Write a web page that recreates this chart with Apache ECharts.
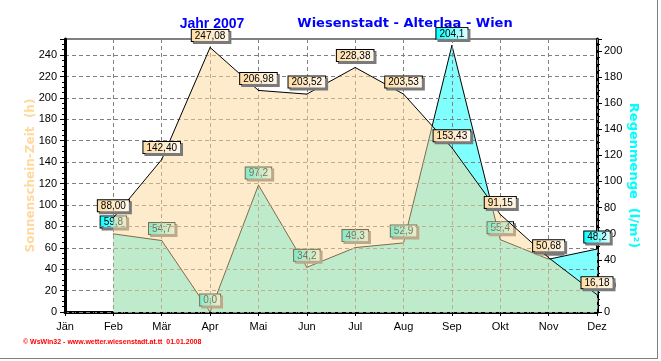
<!DOCTYPE html>
<html>
<head>
<meta charset="utf-8">
<script src="https://cdn.jsdelivr.net/npm/echarts/dist/echarts.min.js"></script>
<style>
html,body{margin:0;padding:0;background:#fff;}
#c{width:661px;height:361px;}
</style>
</head>
<body>
<div id="c"></div>
<script>
const months = ['Jän','Feb','Mär','Apr','Mai','Jun','Jul','Aug','Sep','Okt','Nov','Dez'];
const sunshine = [null, 88.00, 142.40, 247.08, 206.98, 203.52, 228.38, 203.53, 153.43, 91.15, 50.68, 16.18];
const rain = [null, 59.8, 54.7, 0.0, 97.2, 34.2, 49.3, 52.9, 204.1, 55.4, 40.4, 48.2];
const titleLeft = 'Jahr 2007';
const titleRight = 'Wiesenstadt - Alterlaa - Wien';
const leftAxisName = 'Sonnenschein-Zeit  (h)';
const rightAxisName = 'Regenmenge  (l/m²)';
const footer = '© WsWin32 - www.wetter.wiesenstadt.at.tt  01.01.2008';

const FONT = 'Liberation Sans, Arial, sans-serif';
const chart = echarts.init(document.getElementById('c'), null, {renderer: 'canvas'});

function grad(c1, c2) {
  return new echarts.graphic.LinearGradient(0, 0, 1, 0, [{offset: 0, color: c1}, {offset: 1, color: c2}]);
}
function labelCfg(bg, digits) {
  return {
    show: true, position: 'top', distance: 6,
    formatter: p => (p.value == null ? '' : Number(p.value).toFixed(digits).replace('.', ',')),
    fontFamily: FONT, fontSize: 10, lineHeight: 10, color: '#000',
    backgroundColor: bg, borderColor: '#000', borderWidth: 1, padding: [1, 3, 0, 3],
    shadowColor: '#7a7a7a', shadowOffsetX: 2, shadowOffsetY: 2, shadowBlur: 0
  };
}

const option = {
  animation: false,
  grid: {left: 65, right: 64, top: 39, bottom: 49, show: true, borderColor: '#000', borderWidth: 1,
         backgroundColor: 'transparent', containLabel: false, outerBoundsMode: 'none'},
  xAxis: [
    {type: 'category', data: months, boundaryGap: false, position: 'bottom', z: 0,
     axisLine: {show: true, lineStyle: {color: '#000', width: 3}},
     axisTick: {show: false},
     axisLabel: {fontFamily: FONT, fontSize: 11, color: '#000', margin: 9},
     splitLine: {show: false}},
    {type: 'value', min: 0, max: 11, interval: 1, position: 'bottom', z: 2,
     axisLine: {show: false},
     axisTick: {show: true, length: 4, lineStyle: {color: '#000'}},
     minorTick: {show: true, splitNumber: 5, length: 2, lineStyle: {color: '#000'}},
     axisLabel: {show: false},
     splitLine: {show: true, lineStyle: {color: '#808080', type: [4, 3], width: 1}},
     minorSplitLine: {show: false}}
  ],
  yAxis: [
    {type: 'value', position: 'left', min: 0, max: 255, interval: 20, z: 2,
     axisLine: {show: true, lineStyle: {color: '#000', width: 3}},
     axisTick: {show: true, length: 5, lineStyle: {color: '#000'}},
     minorTick: {show: true, splitNumber: 4, length: 3, lineStyle: {color: '#000'}},
     axisLabel: {fontFamily: FONT, fontSize: 11, color: '#000', margin: 8, showMaxLabel: false},
     splitLine: {show: true, lineStyle: {color: '#808080', type: [4, 3], width: 1}},
     name: leftAxisName, nameLocation: 'middle', nameRotate: 90, nameGap: 28, nameMoveOverlap: false,
     nameTextStyle: {fontFamily: 'DejaVu Sans', fontWeight: 'bold', fontSize: 12, color: '#FFD89C'}},
    {type: 'value', position: 'right', min: 0, max: 209, interval: 20, z: 0,
     axisLine: {show: true, lineStyle: {color: '#000', width: 3}},
     axisTick: {show: true, length: 5, lineStyle: {color: '#000'}},
     minorTick: {show: true, splitNumber: 4, length: 3, lineStyle: {color: '#000'}},
     axisLabel: {fontFamily: FONT, fontSize: 11, color: '#000', margin: 7, showMaxLabel: false},
     splitLine: {show: false},
     name: rightAxisName, nameLocation: 'middle', nameRotate: -90, nameGap: 30, nameMoveOverlap: false,
     nameTextStyle: {fontFamily: 'DejaVu Sans', fontWeight: 'bold', fontSize: 13, color: '#00FFFF'}}
  ],
  series: [
    {name: 'Regen', type: 'line', xAxisIndex: 0, yAxisIndex: 1, z: 1, data: rain,
     symbol: 'circle', symbolSize: 1, showSymbol: true,
     itemStyle: {color: '#000'}, lineStyle: {color: '#000', width: 1},
     areaStyle: {color: '#80FFFF', opacity: 1},
     label: labelCfg(grad('#00FFFF', '#E8FFFF'), 1)},
    {name: 'Sonne', type: 'line', xAxisIndex: 0, yAxisIndex: 0, z: 3, data: sunshine,
     symbol: 'circle', symbolSize: 1, showSymbol: true,
     itemStyle: {color: '#000'}, lineStyle: {color: '#000', width: 1},
     areaStyle: {color: 'rgba(251,215,153,0.5)', opacity: 1},
     label: labelCfg(grad('#FFDCA4', '#FFF8EC'), 2)}
  ],
  graphic: [
    {type: 'text', x: 212, y: 24, style: {text: titleLeft, fill: '#0000FF', font: 'bold 14px ' + FONT, textAlign: 'center', textVerticalAlign: 'middle'}},
    {type: 'text', x: 405, y: 24, style: {text: titleRight, fill: '#0000FF', font: 'bold 13px DejaVu Sans', textAlign: 'center', textVerticalAlign: 'middle'}},
    {type: 'text', x: 23, y: 342, style: {text: footer, fill: '#FF0000', font: 'bold 7px ' + FONT, textAlign: 'left', textVerticalAlign: 'middle'}},
    {type: 'line', shape: {x1: 657.5, y1: 0, x2: 657.5, y2: 358.5}, style: {stroke: '#808080', lineWidth: 1}},
    {type: 'line', shape: {x1: 0, y1: 358.5, x2: 658, y2: 358.5}, style: {stroke: '#808080', lineWidth: 1}}
  ]
};
chart.setOption(option);
</script>
</body>
</html>
